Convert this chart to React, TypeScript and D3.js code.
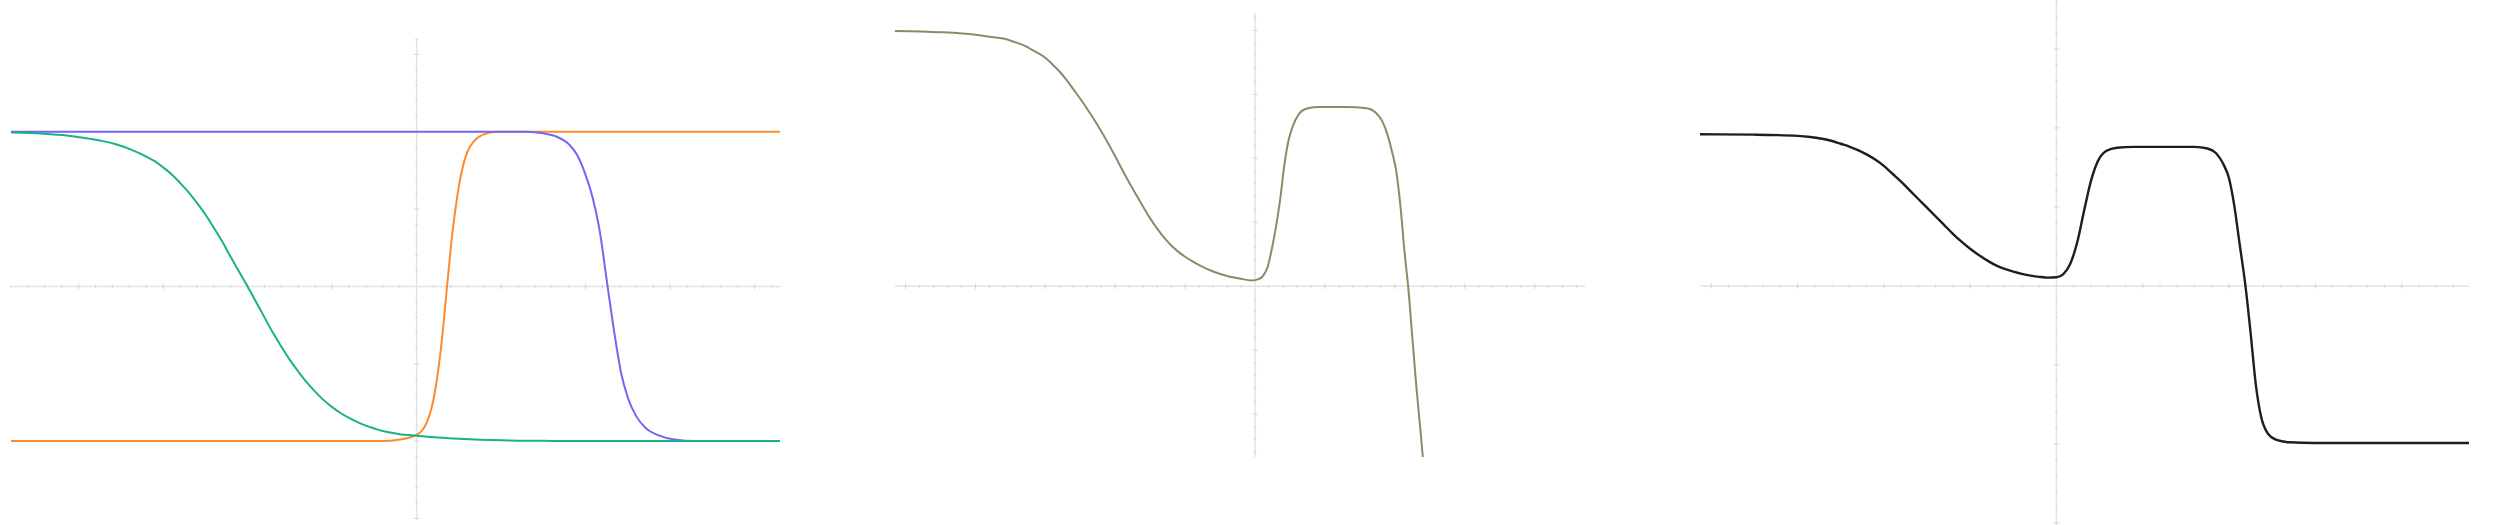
import * as d3 from 'd3';

// three panels of activation-like curves

type Pt = [number, number];

// panel 1: three saturating units
const tealCurve: Pt[] = [
  [-4.8, 0.995], [-4.6, 0.993], [-4.4, 0.988], [-4.2, 0.979], [-4.0, 0.965], [-3.85, 0.953],
  [-3.7, 0.938], [-3.55, 0.918], [-3.4, 0.89], [-3.2, 0.84], [-3.1, 0.81],
  [-3.0, 0.77], [-2.9, 0.725], [-2.8, 0.67], [-2.7, 0.61], [-2.6, 0.54], [-2.5, 0.465],
  [-2.4, 0.38], [-2.3, 0.29], [-2.2, 0.19], [-2.1, 0.095], [-2.0, 0.0],
  [-1.9, -0.1], [-1.8, -0.2], [-1.7, -0.3], [-1.6, -0.39], [-1.5, -0.475], [-1.4, -0.55],
  [-1.3, -0.62], [-1.2, -0.68], [-1.1, -0.735], [-1.0, -0.78], [-0.9, -0.818], [-0.8, -0.85],
  [-0.7, -0.877], [-0.6, -0.9], [-0.5, -0.918], [-0.4, -0.935], [-0.2, -0.955], [0, -0.965],
  [0.25, -0.977], [0.5, -0.985], [0.75, -0.991], [1.0, -0.995], [1.5, -0.998],
  [2.0, -1], [4.3, -1],
];

const orangeCurve: Pt[] = [
  [-4.8, -1], [-0.4, -1], [-0.2, -0.99], [-0.05, -0.97], [0.05, -0.94], [0.12, -0.88],
  [0.18, -0.78], [0.24, -0.6], [0.3, -0.34], [0.36, 0], [0.42, 0.33], [0.48, 0.58],
  [0.54, 0.76], [0.6, 0.87], [0.68, 0.94], [0.78, 0.98], [0.95, 1.0], [4.3, 1.0],
];

const purpleCurve: Pt[] = [
  [-4.8, 1], [1.3, 1], [1.5, 0.99], [1.65, 0.97], [1.8, 0.92], [1.9, 0.85], [2.0, 0.72],
  [2.08, 0.58], [2.16, 0.38], [2.26, 0], [2.34, -0.3], [2.42, -0.56], [2.5, -0.72],
  [2.6, -0.84], [2.72, -0.92], [2.85, -0.96], [3.05, -0.99], [3.3, -1], [4.3, -1],
];

// panel 2: combined curve, runs off the bottom
const middleCurve: Pt[] = [
  [-5.15, 3.99], [-4.5, 3.97], [-4.0, 3.93], [-3.8, 3.9], [-3.6, 3.87], [-3.45, 3.82],
  [-3.3, 3.76], [-3.15, 3.67], [-3.0, 3.57], [-2.9, 3.47],
  [-2.8, 3.36], [-2.7, 3.23], [-2.6, 3.08], [-2.5, 2.93], [-2.4, 2.77], [-2.3, 2.6],
  [-2.2, 2.42], [-2.1, 2.23], [-2.0, 2.03], [-1.9, 1.82], [-1.8, 1.62], [-1.7, 1.43],
  [-1.6, 1.24], [-1.5, 1.06], [-1.4, 0.9], [-1.3, 0.76], [-1.2, 0.64], [-1.1, 0.54],
  [-1.0, 0.46], [-0.9, 0.39], [-0.8, 0.33], [-0.6, 0.23],
  [-0.4, 0.16], [-0.2, 0.115], [-0.05, 0.09], [0.05, 0.11], [0.12, 0.17], [0.18, 0.3],
  [0.24, 0.58], [0.3, 0.93], [0.36, 1.36], [0.42, 1.9], [0.48, 2.28], [0.54, 2.5],
  [0.62, 2.68], [0.72, 2.77], [0.9, 2.8], [1.3, 2.8], [1.6, 2.78], [1.72, 2.72],
  [1.82, 2.58], [1.9, 2.35], [1.96, 2.1], [2.02, 1.8], [2.08, 1.25], [2.14, 0.52],
  [2.19, 0], [2.25, -0.8], [2.31, -1.6], [2.37, -2.3], [2.4, -2.67],
];

// panel 3: output curve
const outputCurve: Pt[] = [
  [-4.13, 1.92], [-3.5, 1.915], [-3.0, 1.9], [-2.85, 1.885], [-2.7, 1.86], [-2.6, 1.835],
  [-2.5, 1.8], [-2.4, 1.765], [-2.3, 1.72], [-2.2, 1.665],
  [-2.1, 1.6], [-2.0, 1.52], [-1.9, 1.42], [-1.8, 1.32], [-1.7, 1.21], [-1.6, 1.1],
  [-1.5, 0.99], [-1.4, 0.88], [-1.3, 0.77], [-1.2, 0.66], [-1.1, 0.56], [-1.0, 0.47],
  [-0.9, 0.39], [-0.8, 0.32], [-0.7, 0.26], [-0.6, 0.215], [-0.5, 0.18], [-0.4, 0.152],
  [-0.3, 0.13], [-0.2, 0.115], [-0.1, 0.105], [0, 0.11],
  [0.08, 0.15], [0.16, 0.28], [0.24, 0.55], [0.32, 0.95], [0.4, 1.33], [0.48, 1.58],
  [0.58, 1.71], [0.7, 1.75], [0.9, 1.76], [1.6, 1.76], [1.75, 1.74], [1.85, 1.68],
  [1.93, 1.55], [2.0, 1.36], [2.06, 1.02], [2.12, 0.55], [2.19, 0], [2.25, -0.6],
  [2.31, -1.25], [2.37, -1.65], [2.45, -1.87], [2.55, -1.95], [2.7, -1.98], [3.0, -1.99],
  [4.78, -1.99],
];

interface Series { data: Pt[]; color: string; width: number }

interface Panel {
  xDomain: [number, number];
  yDomain: [number, number];
  xRange: [number, number];
  yRange: [number, number];
  xMajor: number;
  yMajor: number;
  series: Series[];
}

const panels: Panel[] = [
  {
    xDomain: [-4.8, 4.3], yDomain: [-1.51, 1.6],
    xRange: [11, 780], yRange: [520, 39],
    xMajor: 1, yMajor: 0.5,
    series: [
      { data: orangeCurve, color: '#ff8a2b', width: 2 },
      { data: purpleCurve, color: '#7466f2', width: 2 },
      { data: tealCurve, color: '#1caf8b', width: 2 },
    ],
  },
  {
    xDomain: [-5.15, 4.72], yDomain: [-2.67, 4.27],
    xRange: [895, 1585], yRange: [457, 13],
    xMajor: 1, yMajor: 1,
    series: [{ data: middleCurve, color: '#868d69', width: 2 }],
  },
  {
    xDomain: [-4.13, 4.78], yDomain: [-3.04, 3.62],
    xRange: [1700, 2469], yRange: [526, 0],
    xMajor: 1, yMajor: 1,
    series: [{ data: outputCurve, color: '#1e1e1e', width: 2.4 }],
  },
];

const stepTicks = (lo: number, hi: number, step: number) =>
  d3.range(Math.ceil(lo / step - 1e-9), Math.floor(hi / step + 1e-9) + 1)
    .map(i => +(i * step).toFixed(6))
    .filter(v => Math.abs(v) > 1e-9);

const isMajor = (v: number, step: number) => Math.abs(v / step - Math.round(v / step)) < 1e-6;

const PanelView = ({ p }: { p: Panel }) => {
  const x = d3.scaleLinear().domain(p.xDomain).range(p.xRange);
  const y = d3.scaleLinear().domain(p.yDomain).range(p.yRange);
  const line = d3.line<Pt>()
    .x(d => x(d[0]))
    .y(d => y(d[1]))
    .curve(d3.curveMonotoneX);

  const x0 = x(0);
  const y0 = y(0);
  const xMinor = p.xMajor / 5;
  const yMinor = p.yMajor / 5;
  const xt = stepTicks(p.xDomain[0], p.xDomain[1], xMinor);
  const yt = stepTicks(p.yDomain[0], p.yDomain[1], yMinor);

  return (
    <g>
      <line x1={p.xRange[0]} x2={p.xRange[1]} y1={y0} y2={y0} stroke="#e3e3e3" strokeWidth={1.5} />
      <line x1={x0} x2={x0} y1={p.yRange[0]} y2={p.yRange[1]} stroke="#e3e3e3" strokeWidth={1.5} />
      {xt.map(v => {
        const h = isMajor(v, p.xMajor) ? 2.8 : 1.4;
        return <line key={'x' + v} x1={x(v)} x2={x(v)} y1={y0 - h} y2={y0 + h} stroke="#d4d4d4" strokeWidth={1} />;
      })}
      {yt.map(v => {
        const h = isMajor(v, p.yMajor) ? 2.8 : 1.4;
        return <line key={'y' + v} x1={x0 - h} x2={x0 + h} y1={y(v)} y2={y(v)} stroke="#d4d4d4" strokeWidth={1} />;
      })}
      {p.series.map((s, i) => (
        <path key={i} d={line(s.data) ?? ''} fill="none" stroke={s.color} strokeWidth={s.width} />
      ))}
    </g>
  );
};

export default function App() {
  return (
    <svg
      width={2493}
      height={525}
      style={{ position: 'absolute', left: 0, top: 0, background: '#fff' }}
    >
      {panels.map((p, i) => <PanelView key={i} p={p} />)}
    </svg>
  );
}
